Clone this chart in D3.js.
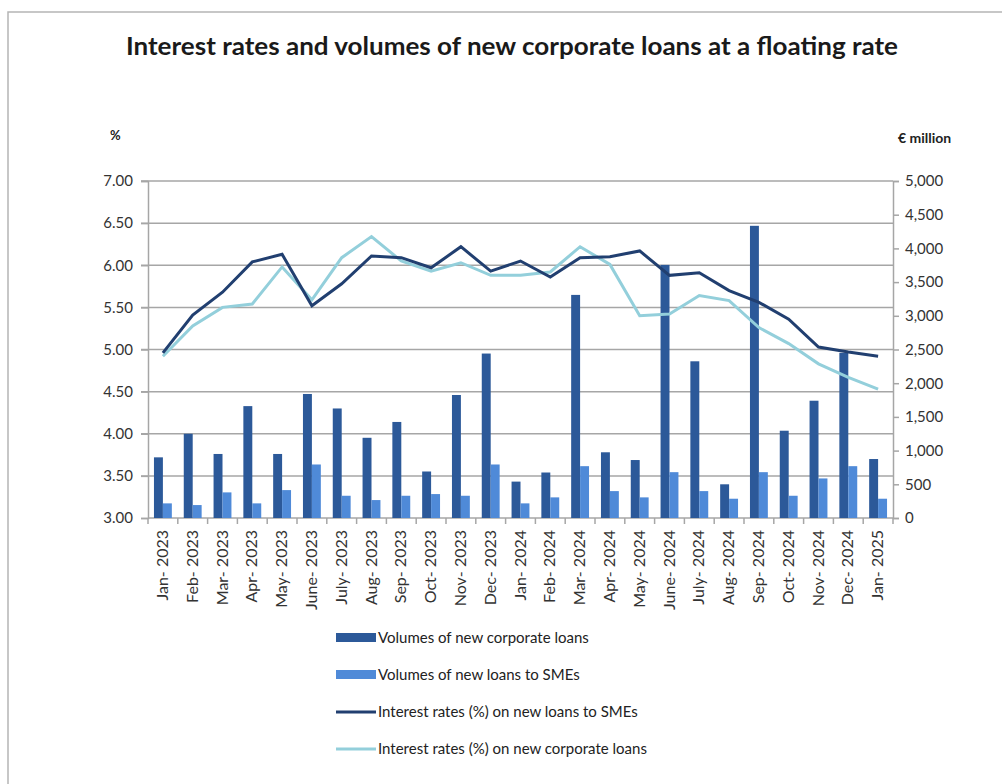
<!DOCTYPE html>
<html>
<head>
<meta charset="utf-8">
<script src="https://cdn.jsdelivr.net/npm/d3@7"></script>
<style>
  body { margin: 0; background: #fff; }
  text { font-family: Lato, "Open Sans", sans-serif; }
</style>
</head>
<body>
<div id="chart"></div>
<script>
const months = ["Jan-2023", "Feb-2023", "Mar-2023", "Apr-2023", "May-2023", "June-2023", "July-2023",
  "Aug-2023", "Sep-2023", "Oct-2023", "Nov-2023", "Dec-2023", "Jan-2024", "Feb-2024", "Mar-2024",
  "Apr-2024", "May-2024", "June-2024", "July-2024", "Aug-2024", "Sep-2024", "Oct-2024", "Nov-2024",
  "Dec-2024", "Jan-2025"];

// € million, right axis
const volCorporate = [900, 1250, 950, 1660, 950, 1840, 1625, 1190, 1425, 690, 1825, 2440, 540, 675,
  3310, 975, 860, 3755, 2325, 500, 4335, 1295, 1740, 2450, 875];
const volSME = [217, 192, 380, 217, 414, 794, 330, 266, 330, 355, 330, 794, 217, 306,
  769, 399, 306, 680, 399, 286, 680, 330, 587, 769, 286];

// %, left axis
const rateSME = [4.96, 5.41, 5.68, 6.04, 6.13, 5.52, 5.78, 6.11, 6.09, 5.97, 6.22, 5.93, 6.05, 5.86,
  6.09, 6.10, 6.17, 5.88, 5.91, 5.70, 5.56, 5.36, 5.03, 4.97, 4.92];
const rateCorporate = [4.92, 5.28, 5.50, 5.54, 5.98, 5.59, 6.09, 6.34, 6.05, 5.93, 6.03, 5.88, 5.88, 5.92,
  6.22, 6.01, 5.40, 5.42, 5.64, 5.58, 5.26, 5.07, 4.83, 4.67, 4.53];

const leftTicks = [3.0, 3.5, 4.0, 4.5, 5.0, 5.5, 6.0, 6.5, 7.0];
const rightTicks = [0, 500, 1000, 1500, 2000, 2500, 3000, 3500, 4000, 4500, 5000];

const legendItems = [
  { label: "Volumes of new corporate loans", type: "bar", color: "#2c5999" },
  { label: "Volumes of new loans to SMEs", type: "bar", color: "#4f8ad8" },
  { label: "Interest rates (%) on new loans to SMEs", type: "line", color: "#213f70" },
  { label: "Interest rates (%) on new corporate loans", type: "line", color: "#93cfdb" }
];

const W = 1002, H = 784;
const margin = { top: 181, right: 109, bottom: 266, left: 148 };
const width = W - margin.left - margin.right,
      height = H - margin.top - margin.bottom;

const svg = d3.select("#chart").append("svg")
    .attr("width", W)
    .attr("height", H);

// chart border (cropped at right/bottom)
svg.append("rect")
  .attr("x", 8).attr("y", 12)
  .attr("width", W + 20).attr("height", H + 20)
  .attr("fill", "none")
  .attr("stroke", "#b5b5b5")
  .attr("stroke-width", 1.5);

svg.append("text")
  .attr("x", 512).attr("y", 55)
  .attr("text-anchor", "middle")
  .attr("textLength", 772)
  .attr("lengthAdjust", "spacingAndGlyphs")
  .style("font-size", "24px")
  .style("font-weight", "bold")
  .style("fill", "#1a1a1a")
  .text("Interest rates and volumes of new corporate loans at a floating rate");

svg.append("text")
  .attr("x", 110).attr("y", 140)
  .style("font-size", "13px").style("font-weight", "bold").style("fill", "#222")
  .text("%");

svg.append("text")
  .attr("x", 898).attr("y", 143)
  .style("font-size", "14px").style("font-weight", "bold").style("fill", "#222")
  .text("€ million");

const g = svg.append("g")
  .attr("transform", `translate(${margin.left},${margin.top})`);

const x = d3.scaleBand()
  .domain(months)
  .range([0, width])
  .padding(0);

const xInner = d3.scaleBand()
  .domain(["corp", "sme"])
  .range([x.bandwidth() * 0.2, x.bandwidth() * 0.8]);

const yLeft = d3.scaleLinear().domain([3, 7]).range([height, 0]);
const yRight = d3.scaleLinear().domain([0, 5000]).range([height, 0]);

// gridlines
g.append("g")
  .selectAll("line")
  .data(leftTicks.slice(1))
  .join("line")
    .attr("x1", -7).attr("x2", width)
    .attr("y1", d => yLeft(d)).attr("y2", d => yLeft(d))
    .attr("stroke", "#a6a6a6")
    .attr("stroke-width", 1.5);

// left axis
const leftAxis = g.append("g")
  .call(d3.axisLeft(yLeft).tickValues(leftTicks).tickFormat(d3.format(".2f")).tickSize(7).tickPadding(8));
leftAxis.selectAll("line").attr("stroke", "#a6a6a6").attr("stroke-width", 1.5);
leftAxis.select(".domain").attr("stroke", "#a6a6a6").attr("stroke-width", 1.5);
leftAxis.selectAll("text").style("font-size", "15px").style("fill", "#333")
  .style("font-family", "Lato, sans-serif");

// right axis
const rightAxis = g.append("g")
  .attr("transform", `translate(${width},0)`)
  .call(d3.axisRight(yRight).tickValues(rightTicks).tickFormat(d3.format(",")).tickSize(6).tickPadding(6));
rightAxis.selectAll("line").attr("stroke", "#a6a6a6").attr("stroke-width", 1.5);
rightAxis.select(".domain").attr("stroke", "#a6a6a6").attr("stroke-width", 1.5);
rightAxis.selectAll("text").style("font-size", "15px").style("fill", "#333")
  .style("font-family", "Lato, sans-serif");

// bottom axis: ticks between categories
const bottom = g.append("g").attr("transform", `translate(0,${height})`);
bottom.append("line")
  .attr("x1", 0).attr("x2", width)
  .attr("stroke", "#a6a6a6").attr("stroke-width", 1.5);
bottom.selectAll(".tk")
  .data(months.concat(["end"]))
  .join("line")
    .attr("class", "tk")
    .attr("x1", (d, i) => i * x.bandwidth())
    .attr("x2", (d, i) => i * x.bandwidth())
    .attr("y1", 0).attr("y2", 6)
    .attr("stroke", "#a6a6a6").attr("stroke-width", 1.5);
bottom.selectAll(".lbl")
  .data(months)
  .join("text")
    .attr("class", "lbl")
    .attr("transform", d => `translate(${x(d) + x.bandwidth() / 2 + 5},12) rotate(-90)`)
    .attr("text-anchor", "end")
    .style("font-size", "16px")
    .style("fill", "#333")
    .text(d => d.replace("-", "- "));

// bars
const barData = months.map((m, i) => ({ month: m, corp: volCorporate[i], sme: volSME[i] }));
const groups = g.append("g")
  .selectAll("g")
  .data(barData)
  .join("g")
    .attr("transform", d => `translate(${x(d.month)},0)`);

groups.append("rect")
  .attr("x", xInner("corp"))
  .attr("width", xInner.bandwidth())
  .attr("y", d => yRight(d.corp))
  .attr("height", d => height - yRight(d.corp))
  .attr("fill", legendItems[0].color);

groups.append("rect")
  .attr("x", xInner("sme"))
  .attr("width", xInner.bandwidth())
  .attr("y", d => yRight(d.sme))
  .attr("height", d => height - yRight(d.sme))
  .attr("fill", legendItems[1].color);

// lines
const line = d3.line()
  .x((d, i) => x(months[i]) + x.bandwidth() / 2)
  .y(d => yLeft(d));

g.append("path")
  .datum(rateCorporate)
  .attr("d", line)
  .attr("fill", "none")
  .attr("stroke", legendItems[3].color)
  .attr("stroke-width", 3);

g.append("path")
  .datum(rateSME)
  .attr("d", line)
  .attr("fill", "none")
  .attr("stroke", legendItems[2].color)
  .attr("stroke-width", 3);

// legend
const legend = svg.append("g")
  .selectAll("g")
  .data(legendItems)
  .join("g")
    .attr("transform", (d, i) => `translate(336,${638 + i * 37})`);

legend.filter(d => d.type === "bar").append("rect")
  .attr("x", 0).attr("y", -5)
  .attr("width", 40).attr("height", 9)
  .attr("fill", d => d.color);

legend.filter(d => d.type === "line").append("line")
  .attr("x1", 0).attr("x2", 40)
  .attr("y1", 0).attr("y2", 0)
  .attr("stroke", d => d.color)
  .attr("stroke-width", 3);

legend.append("text")
  .attr("x", 42)
  .attr("y", 5)
  .style("font-size", "15px")
  .style("fill", "#222")
  .text(d => d.label);
</script>
</body>
</html>
